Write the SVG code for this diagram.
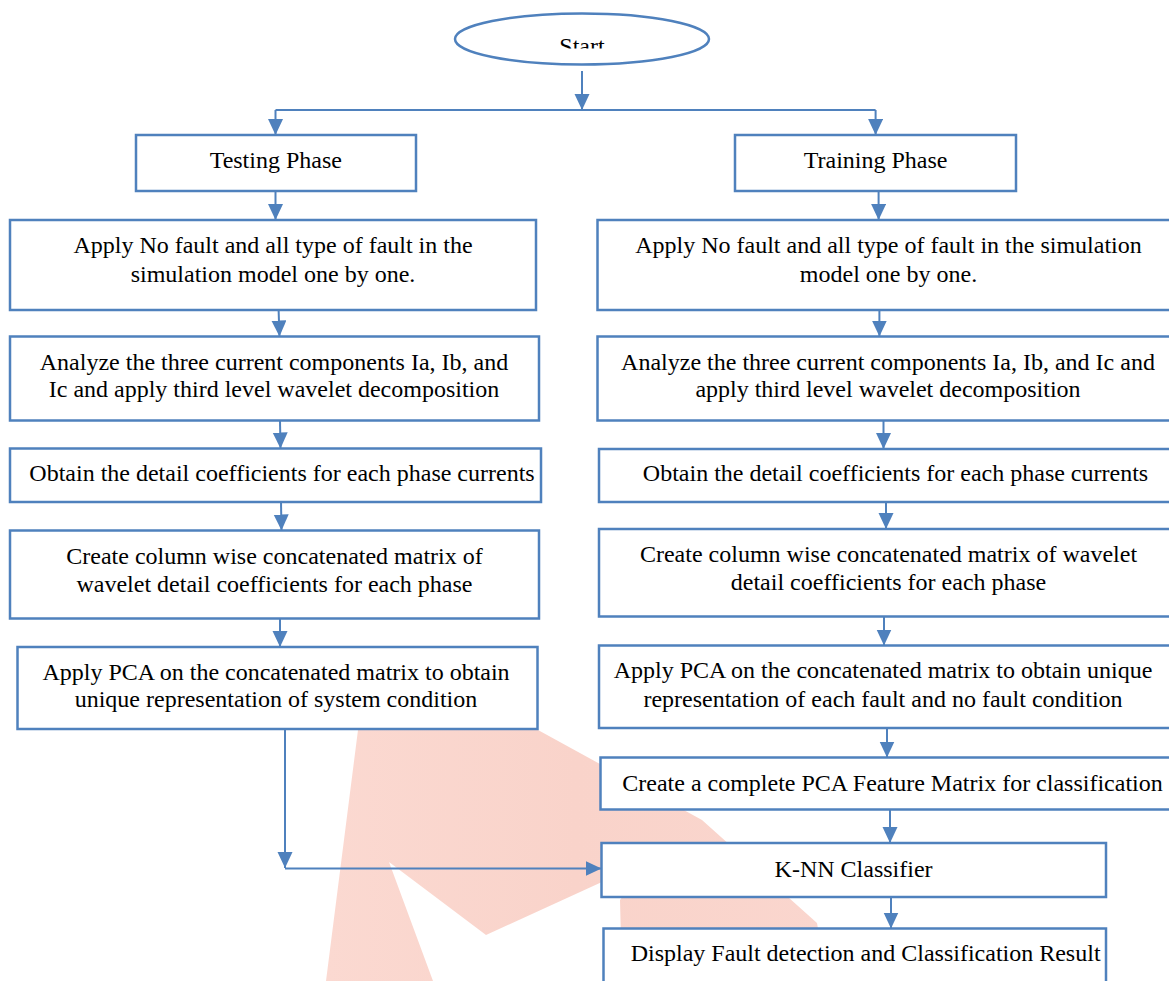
<svg xmlns="http://www.w3.org/2000/svg" width="1169" height="981" viewBox="0 0 1169 981">
  <style>
    .box { fill: #ffffff; stroke: #4f81bd; stroke-width: 2.5; }
    .ln { fill: none; stroke: #4f81bd; stroke-width: 2; }
    .t { font-family: "Liberation Serif", "Times New Roman", serif; font-size: 24px; fill: #000000; text-anchor: middle; }
  </style>
  <defs>
    <marker id="ah" markerUnits="userSpaceOnUse" markerWidth="16" markerHeight="16" viewBox="0 0 16 16" refX="16" refY="7.5" orient="auto">
      <path d="M0,0 L16,7.5 L0,15 Z" fill="#4f81bd"/>
    </marker>
    <clipPath id="startClip">
      <rect x="450" y="10" width="270" height="38.5"/>
    </clipPath>
    <linearGradient id="wm" x1="0" y1="0" x2="1" y2="0">
      <stop offset="0" stop-color="#fbd9d1"/>
      <stop offset="0.5" stop-color="#f9d3ca"/>
      <stop offset="1" stop-color="#fad6ce"/>
    </linearGradient>
  </defs>

  <!-- watermark -->
  <g id="watermark">
    <polygon points="326,981 358,730 538,730 702,820 817,923 827,981 622,981 620,900 650,860 486,935 389,862 433,981" fill="url(#wm)"/>
  </g>

  <g id="connectors">
    <line class="ln" x1="582" y1="71" x2="582" y2="110" marker-end="url(#ah)"/>
    <line class="ln" x1="275.5" y1="110" x2="875.6" y2="110"/>
    <line class="ln" x1="275.5" y1="110" x2="275.5" y2="135" marker-end="url(#ah)"/>
    <line class="ln" x1="875.6" y1="110" x2="875.6" y2="135" marker-end="url(#ah)"/>
    <line class="ln" x1="275.5" y1="191" x2="275.5" y2="220" marker-end="url(#ah)"/>
    <line class="ln" x1="878.6" y1="191" x2="878.6" y2="220" marker-end="url(#ah)"/>
    <line class="ln" x1="278.6" y1="310" x2="279.5" y2="336.5" marker-end="url(#ah)"/>
    <line class="ln" x1="280" y1="421" x2="280.5" y2="448.5" marker-end="url(#ah)"/>
    <line class="ln" x1="281" y1="502" x2="281.5" y2="530.5" marker-end="url(#ah)"/>
    <line class="ln" x1="280" y1="619" x2="280" y2="647" marker-end="url(#ah)"/>
    <line class="ln" x1="285" y1="729" x2="285" y2="868" marker-end="url(#ah)"/>
    <line class="ln" x1="285" y1="868.5" x2="601.5" y2="868.5" marker-end="url(#ah)"/>
    <line class="ln" x1="879.4" y1="310" x2="879.4" y2="336.5" marker-end="url(#ah)"/>
    <line class="ln" x1="883.5" y1="421" x2="883.5" y2="449" marker-end="url(#ah)"/>
    <line class="ln" x1="886" y1="502" x2="886" y2="529" marker-end="url(#ah)"/>
    <line class="ln" x1="884" y1="617" x2="884" y2="645.5" marker-end="url(#ah)"/>
    <line class="ln" x1="887" y1="728" x2="887" y2="757.5" marker-end="url(#ah)"/>
    <line class="ln" x1="890" y1="809" x2="890" y2="843" marker-end="url(#ah)"/>
    <line class="ln" x1="891" y1="897" x2="891" y2="928.5" marker-end="url(#ah)"/>
  </g>

  <g id="start">
    <ellipse cx="582" cy="39" rx="127" ry="25.5" fill="#ffffff" stroke="#4f81bd" stroke-width="2.5"/>
    <text class="t" x="582" y="54" clip-path="url(#startClip)">Start</text>
  </g>

  <g id="testing">
    <rect class="box" x="136" y="135" width="280" height="56"/>
    <text class="t" x="275.8" y="168.3">Testing Phase</text>
  </g>
  <g id="training">
    <rect class="box" x="735" y="135" width="281" height="56"/>
    <text class="t" x="875.6" y="168.3">Training Phase</text>
  </g>

  <g id="test-apply">
    <rect class="box" x="10" y="220" width="526" height="90"/>
    <text class="t" x="273" y="253.3">Apply No fault and all type of fault in the</text>
    <text class="t" x="273" y="281.7">simulation model one by one.</text>
  </g>
  <g id="train-apply">
    <rect class="box" x="597.5" y="220" width="590" height="90"/>
    <text class="t" x="888.5" y="253.3">Apply No fault and all type of fault in the simulation</text>
    <text class="t" x="888.5" y="281.7">model one by one.</text>
  </g>

  <g id="test-analyze">
    <rect class="box" x="10" y="336.5" width="529" height="84"/>
    <text class="t" x="274" y="370">Analyze the three current components Ia, Ib, and</text>
    <text class="t" x="274" y="397.3">Ic and apply third level wavelet decomposition</text>
  </g>
  <g id="train-analyze">
    <rect class="box" x="597.5" y="336.5" width="590" height="84"/>
    <text class="t" x="888" y="370">Analyze the three current components Ia, Ib, and Ic and</text>
    <text class="t" x="888" y="397.3">apply third level wavelet decomposition</text>
  </g>

  <g id="test-obtain">
    <rect class="box" x="10" y="448.5" width="531" height="53.5"/>
    <text class="t" x="282" y="481">Obtain the detail coefficients for each phase currents</text>
  </g>
  <g id="train-obtain">
    <rect class="box" x="599" y="449" width="590" height="53"/>
    <text class="t" x="895.5" y="481">Obtain the detail coefficients for each phase currents</text>
  </g>

  <g id="test-create">
    <rect class="box" x="10" y="530.5" width="529" height="88"/>
    <text class="t" x="274.5" y="564">Create column wise concatenated matrix of</text>
    <text class="t" x="274.5" y="592">wavelet detail coefficients for each phase</text>
  </g>
  <g id="train-create">
    <rect class="box" x="599" y="529" width="590" height="87.5"/>
    <text class="t" x="888.5" y="562">Create column wise concatenated matrix of wavelet</text>
    <text class="t" x="888.5" y="590">detail coefficients for each phase</text>
  </g>

  <g id="test-pca">
    <rect class="box" x="17.5" y="647" width="520" height="82"/>
    <text class="t" x="276" y="680">Apply PCA on the concatenated matrix to obtain</text>
    <text class="t" x="276" y="707">unique representation of system condition</text>
  </g>
  <g id="train-pca">
    <rect class="box" x="599" y="645.5" width="590" height="82.5"/>
    <text class="t" x="883" y="678">Apply PCA on the concatenated matrix to obtain unique</text>
    <text class="t" x="883" y="706.7">representation of each fault and no fault condition</text>
  </g>

  <g id="feature-matrix">
    <rect class="box" x="600.5" y="757.5" width="590" height="52"/>
    <text class="t" x="892.5" y="791">Create a complete PCA Feature Matrix for classification</text>
  </g>

  <g id="knn">
    <rect class="box" x="601.5" y="843" width="504.5" height="54"/>
    <text class="t" x="853.6" y="877">K-NN Classifier</text>
  </g>

  <g id="display">
    <rect class="box" x="603.5" y="928.5" width="502.5" height="70"/>
    <text class="t" x="865.6" y="961">Display Fault detection and Classification Result</text>
  </g>
</svg>
